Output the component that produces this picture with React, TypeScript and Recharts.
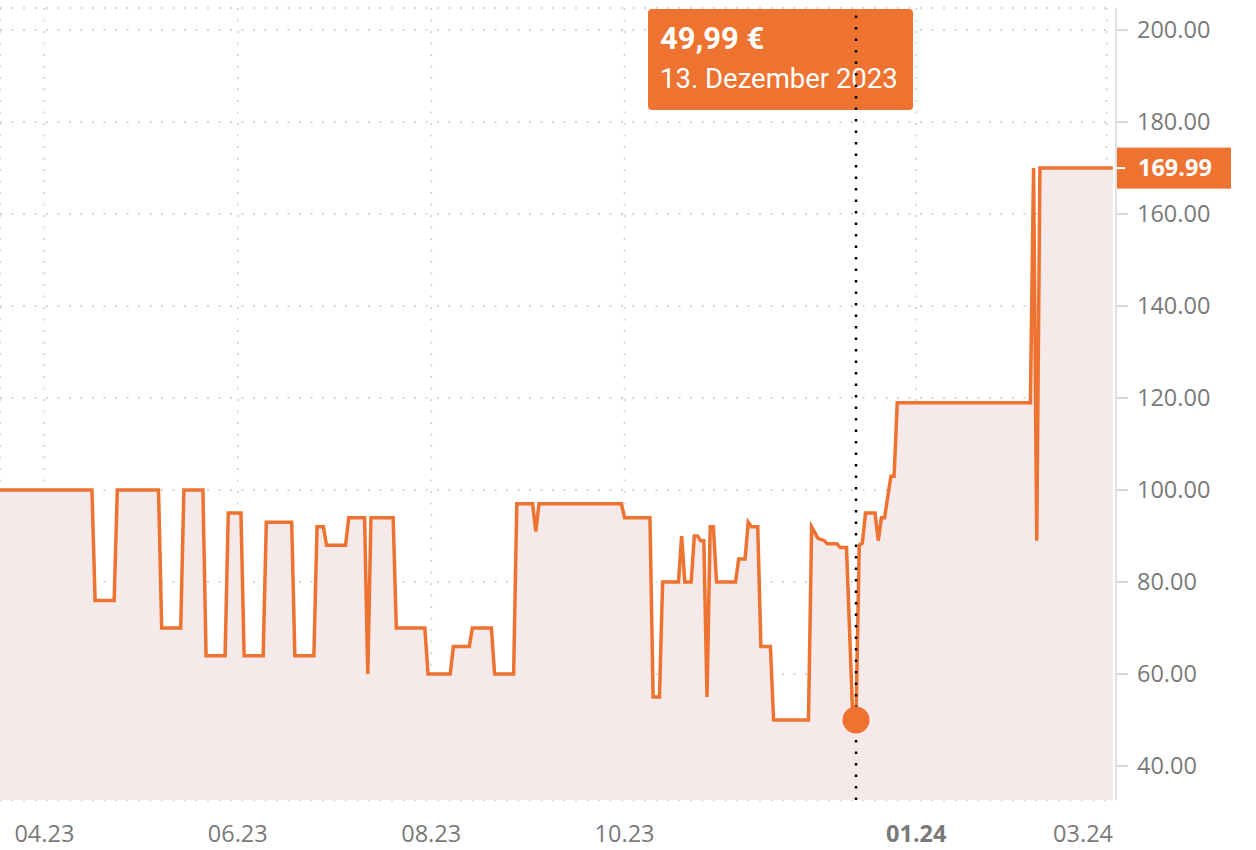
import {
  AreaChart,
  Area,
  XAxis,
  YAxis,
  CartesianGrid,
  ReferenceLine,
  ReferenceDot,
} from "recharts";

const dates = [
  "2023-03-18", "2023-04-16", "2023-04-17", "2023-04-23", "2023-04-24", "2023-05-07",
  "2023-05-08", "2023-05-14", "2023-05-15", "2023-05-21", "2023-05-22", "2023-05-28",
  "2023-05-29", "2023-06-02", "2023-06-03", "2023-06-09", "2023-06-10", "2023-06-18",
  "2023-06-19", "2023-06-25", "2023-06-26", "2023-06-28", "2023-06-29", "2023-07-05",
  "2023-07-06", "2023-07-11", "2023-07-12", "2023-07-13", "2023-07-20", "2023-07-21",
  "2023-07-30", "2023-07-31", "2023-08-07", "2023-08-08", "2023-08-13", "2023-08-14",
  "2023-08-20", "2023-08-21", "2023-08-27", "2023-08-28", "2023-09-02", "2023-09-03",
  "2023-09-04", "2023-09-30", "2023-10-01", "2023-10-09", "2023-10-10", "2023-10-12",
  "2023-10-13", "2023-10-18", "2023-10-19", "2023-10-20", "2023-10-22", "2023-10-23",
  "2023-10-24", "2023-10-25", "2023-10-26", "2023-10-27", "2023-10-28", "2023-10-29",
  "2023-10-30", "2023-11-05", "2023-11-06", "2023-11-08", "2023-11-09", "2023-11-10",
  "2023-11-12", "2023-11-13", "2023-11-16", "2023-11-17", "2023-11-28", "2023-11-29",
  "2023-12-01", "2023-12-03", "2023-12-04", "2023-12-07", "2023-12-08", "2023-12-10",
  "2023-12-12", "2023-12-13", "2023-12-14", "2023-12-15", "2023-12-16", "2023-12-19",
  "2023-12-20", "2023-12-21", "2023-12-22", "2023-12-24", "2023-12-25", "2023-12-26",
  "2024-02-06", "2024-02-07", "2024-02-08", "2024-02-09", "2024-03-03",
];

const prices = [
  99.99, 99.99, 75.99, 75.99, 99.99, 99.99,
  69.99, 69.99, 99.99, 99.99, 63.99, 63.99,
  94.99, 94.99, 63.99, 63.99, 92.99, 92.99,
  63.99, 63.99, 91.99, 91.99, 87.99, 87.99,
  93.99, 93.99, 59.99, 93.99, 93.99, 69.99,
  69.99, 59.99, 59.99, 65.99, 65.99, 69.99,
  69.99, 59.99, 59.99, 96.99, 96.99, 90.99,
  96.99, 96.99, 93.99, 93.99, 54.99, 54.99,
  79.99, 79.99, 89.99, 79.99, 79.99, 89.99,
  89.99, 88.99, 88.99, 54.99, 91.99, 91.99,
  79.99, 79.99, 84.99, 84.99, 92.99, 91.99,
  91.99, 65.99, 65.99, 49.99, 49.99, 91.99,
  89.49, 88.99, 88.29, 88.29, 87.49, 87.49,
  49.99, 49.99, 87.99, 88.49, 94.99, 94.99,
  88.99, 93.99, 93.99, 102.99, 102.99, 118.99,
  118.99, 169.99, 88.99, 169.99, 169.99,
];

const xTicks = ["2023-04-01", "2023-06-01", "2023-08-01", "2023-10-01", "2024-01-01", "2024-03-01"];
const yTicks = [40, 60, 80, 100, 120, 140, 160, 180, 200];
const xRange = ["2023-03-18", "2024-03-04"];
const yRange = [32.6, 204.8];
const hoverDate = "2023-12-13";
const monthNames = [
  "Januar", "Februar", "März", "April", "Mai", "Juni",
  "Juli", "August", "September", "Oktober", "November", "Dezember",
];

const ORANGE = "#ee7230";
const FILL = "#f5e9e9";
const AXIS_TEXT = "#7a7a7a";
const DAY = 86400000;
const CHART_W = 1256;
const Y_AXIS_W = 140;
const PLOT_RIGHT = CHART_W - Y_AXIS_W;

const toDay = (s: string) => Date.parse(s) / DAY;

const data = dates.map((d, i) => ({ t: toDay(d), price: prices[i] }));
const hover = data[dates.indexOf(hoverDate)];
const last = data[data.length - 1];

const hoverDt = new Date(hover.t * DAY);
const hoverPrice = hover.price.toFixed(2).replace(".", ",") + " €";
const hoverLabel = `${hoverDt.getUTCDate()}. ${monthNames[hoverDt.getUTCMonth()]} ${hoverDt.getUTCFullYear()}`;

function XTick({ x, y, payload }: any) {
  const dt = new Date(payload.value * DAY);
  const m = dt.getUTCMonth();
  const text = String(m + 1).padStart(2, "0") + "." + String(dt.getUTCFullYear() % 100).padStart(2, "0");
  // keep the last label inside the plot
  const clamp = x + 32 > PLOT_RIGHT;
  return (
    <text
      x={clamp ? PLOT_RIGHT - 3 : x}
      y={y + 42}
      textAnchor={clamp ? "end" : "middle"}
      fill={AXIS_TEXT}
      fontSize={23.5}
      fontWeight={m === 0 ? 700 : 400}
      fontFamily="Open Sans"
    >
      {text}
    </text>
  );
}

function YTick({ x, y, payload }: any) {
  return (
    <text x={x} y={y + 8.3} textAnchor="start" fill={AXIS_TEXT} fontSize={23.5} fontFamily="Open Sans">
      {Number(payload.value).toFixed(2)}
    </text>
  );
}

function TooltipBox({ viewBox }: any) {
  const x = viewBox.x;
  return (
    <g>
      <rect x={x - 208} y={9} width={265} height={101} rx={4} fill={ORANGE} />
      <text x={x - 196} y={49} fill="#fff" fontFamily="Roboto" fontWeight={700} fontSize={31}>
        {hoverPrice}
      </text>
      <text x={x - 196} y={88} fill="#fff" fontFamily="Roboto" fontSize={27.5}>
        {hoverLabel}
      </text>
    </g>
  );
}

function PriceTag({ viewBox }: any) {
  const x = viewBox.x + viewBox.width;
  const y = viewBox.y;
  return (
    <g>
      <rect x={x + 1} y={y - 20.5} width={114} height={41} fill={ORANGE} />
      <line x1={x - 2} x2={x + 9} y1={y} y2={y} stroke="#fff" strokeWidth={2} />
      <text x={x + 22} y={y + 8.3} fill="#fff" fontSize={23.5} fontWeight={700} fontFamily="Open Sans">
        {last.price.toFixed(2)}
      </text>
    </g>
  );
}

export default function App() {
  return (
    <div style={{ position: "absolute", left: 0, top: 0, width: CHART_W, height: 850, background: "#fff", fontFamily: "Open Sans" }}>
      <AreaChart width={CHART_W} height={850} data={data} margin={{ top: 8, right: 0, bottom: 0, left: 0 }}>
        <CartesianGrid stroke="#d6d6d6" strokeWidth={2} strokeDasharray="2 9.5" />
        <XAxis
          dataKey="t"
          type="number"
          domain={[toDay(xRange[0]), toDay(xRange[1])]}
          ticks={xTicks.map(toDay)}
          allowDataOverflow
          axisLine={false}
          tickLine={false}
          tickSize={0}
          tickMargin={0}
          height={50}
          tick={<XTick />}
          interval={0}
        />
        <YAxis
          orientation="right"
          type="number"
          domain={yRange}
          ticks={yTicks}
          allowDataOverflow
          width={Y_AXIS_W}
          axisLine={{ stroke: "#e2e2e2", strokeWidth: 2 }}
          tickLine={{ stroke: "#d8d8d8", strokeWidth: 2 }}
          tickSize={12}
          tickMargin={9}
          tick={<YTick />}
          interval={0}
        />
        <Area
          type="linear"
          dataKey="price"
          stroke={ORANGE}
          strokeWidth={3.5}
          fill={FILL}
          fillOpacity={1}
          dot={false}
          activeDot={false}
          isAnimationActive={false}
        />
        <ReferenceLine y={last.price} stroke="none" label={(p: any) => <PriceTag {...p} />} />
        <ReferenceLine x={hover.t} stroke="none" label={(p: any) => <TooltipBox {...p} />} />
        <ReferenceLine x={hover.t} stroke="#000" strokeWidth={2.5} strokeDasharray="2.5 9" />
        <ReferenceDot x={hover.t} y={hover.price} r={13.5} fill={ORANGE} stroke="none" />
      </AreaChart>
    </div>
  );
}
